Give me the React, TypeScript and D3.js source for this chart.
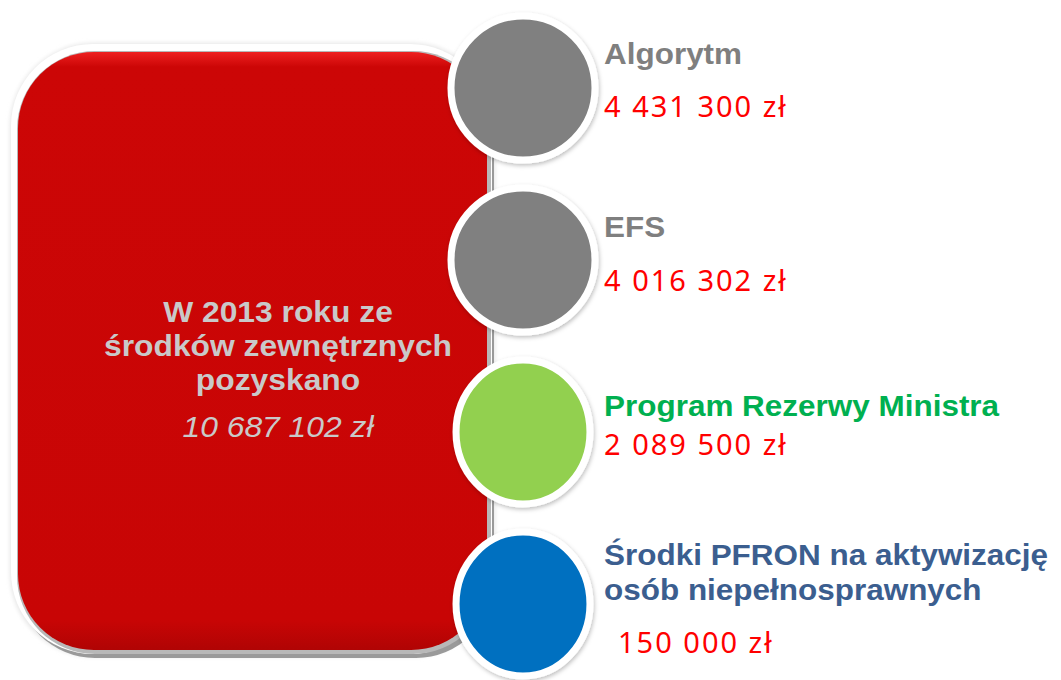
import React, { useRef, useEffect } from 'react';
import * as d3 from 'd3';

// Data
const categories = ['Algorytm', 'EFS', 'Program Rezerwy Ministra', 'Środki PFRON na aktywizację osób niepełnosprawnych'];
const labelLines = [['Algorytm'], ['EFS'], ['Program Rezerwy Ministra'], ['Środki PFRON na aktywizację', 'osób niepełnosprawnych']];
const values = [4431300, 4016302, 2089500, 150000];
const totalLines = ['W 2013 roku ze', 'środków zewnętrznych', 'pozyskano'];
const totalValue = 10687102;

const circleColors = ['#808080', '#808080', '#92D050', '#0070C0'];
const labelColors = ['#7F7F7F', '#7F7F7F', '#00B050', '#3B5E8F'];

// per-item text placement relative to the circle centre
const labelDy = [-24, -23, -16, -39];
const valueDy = [29, 31, 23, 49];
const valueDx = [0, 0, 0, 14];
const circleSqueeze = [1, 1, 0.93, 0.93];

const locale = d3.formatLocale({ decimal: ',', thousands: ' ', grouping: [3], currency: ['', ' zł'] });
const fmt = locale.format('$,');

const App = () => {
  const ref = useRef(null);

  useEffect(() => {
    const width = 1061;
    const height = 680;
    const svg = d3.select(ref.current);
    svg.selectAll('*').remove();
    svg.attr('width', width).attr('height', height);

    const defs = svg.append('defs');
    const grad = defs.append('linearGradient').attr('id', 'redGrad').attr('x1', 0).attr('y1', 0).attr('x2', 0).attr('y2', 1);
    grad.append('stop').attr('offset', '0%').attr('stop-color', '#EE2020');
    grad.append('stop').attr('offset', '2.5%').attr('stop-color', '#CC0606');
    grad.append('stop').attr('offset', '95%').attr('stop-color', '#C80505');
    grad.append('stop').attr('offset', '100%').attr('stop-color', '#B00404');

    const blur = defs.append('filter').attr('id', 'soft').attr('x', '-10%').attr('y', '-10%').attr('width', '120%').attr('height', '120%');
    blur.append('feGaussianBlur').attr('stdDeviation', 2);

    const circShadow = defs.append('filter').attr('id', 'cshadow').attr('x', '-20%').attr('y', '-20%').attr('width', '140%').attr('height', '140%');
    circShadow.append('feDropShadow').attr('dx', 1).attr('dy', 2).attr('stdDeviation', 2).attr('flood-color', '#000').attr('flood-opacity', 0.25);

    // Big red box
    const box = { x: 18, y: 52, w: 469, h: 598, r: 76 };
    svg.append('rect')
      .attr('x', box.x - 8).attr('y', box.y - 9)
      .attr('width', box.w + 16).attr('height', box.h + 16)
      .attr('rx', box.r + 8)
      .attr('fill', '#e6e6e6')
      .attr('filter', 'url(#soft)');
    svg.append('rect')
      .attr('x', box.x - 1).attr('y', box.y - 1)
      .attr('width', box.w + 8).attr('height', box.h + 9)
      .attr('rx', box.r + 2)
      .attr('fill', '#9a9a9a');
    svg.append('rect')
      .attr('x', box.x - 7).attr('y', box.y - 8)
      .attr('width', box.w + 12).attr('height', box.h + 12)
      .attr('rx', box.r + 6)
      .attr('fill', '#ffffff');
    svg.append('rect')
      .attr('x', box.x - 1).attr('y', box.y - 1)
      .attr('width', box.w + 5).attr('height', box.h + 5)
      .attr('rx', box.r + 2)
      .attr('fill', '#b8b8b8');
    svg.append('rect')
      .attr('x', box.x).attr('y', box.y)
      .attr('width', box.w).attr('height', box.h)
      .attr('rx', box.r)
      .attr('fill', 'url(#redGrad)');

    // Text in the box (slightly widened like the original slide)
    const tx = 278;
    const tg = svg.append('g').attr('transform', `translate(${tx},0) scale(1.06,1)`);
    const tText = tg.append('text')
      .attr('text-anchor', 'middle')
      .style('font-family', '"Liberation Sans", Arial, sans-serif')
      .style('font-weight', 'bold')
      .style('font-size', '30px')
      .attr('fill', '#C9C9C9');
    totalLines.forEach((line, i) => {
      tText.append('tspan').attr('x', 0).attr('y', 322 + i * 34).text(line);
    });
    tg.append('text')
      .attr('x', 0).attr('y', 437)
      .attr('text-anchor', 'middle')
      .style('font-family', '"Liberation Sans", Arial, sans-serif')
      .style('font-style', 'italic')
      .style('font-size', '30px')
      .attr('fill', '#C9C9C9')
      .text(fmt(totalValue));

    // Circles
    const y = d3.scalePoint().domain(categories).range([88, 604]);
    const cx = 523;
    const r = 72;

    const items = svg.append('g').selectAll('g')
      .data(categories)
      .join('g')
      .attr('transform', d => `translate(${cx},${y(d)})`);

    items.append('ellipse')
      .attr('rx', (d, i) => r * circleSqueeze[i])
      .attr('ry', r)
      .attr('fill', (d, i) => circleColors[i])
      .attr('stroke', '#ffffff')
      .attr('stroke-width', 7)
      .attr('filter', 'url(#cshadow)');

    // Labels
    items.each(function (d, i) {
      const g = d3.select(this);
      const lt = g.append('text')
        .attr('transform', `translate(${604 - cx},0) scale(1.085,1)`)
        .style('font-family', '"Liberation Sans", Arial, sans-serif')
        .style('font-weight', 'bold')
        .style('font-size', '29px')
        .attr('fill', labelColors[i]);
      labelLines[i].forEach((line, j) => {
        lt.append('tspan').attr('x', 0).attr('y', labelDy[i] + j * 35).text(line);
      });
      g.append('text')
        .attr('x', 604 - cx + valueDx[i])
        .attr('y', valueDy[i])
        .style('font-family', '"Noto Sans", sans-serif')
        .style('font-size', '29px')
        .style('letter-spacing', '2px')
        .attr('fill', '#FF0000')
        .text(fmt(values[i]));
    });
  }, []);

  return <svg ref={ref} style={{ position: 'absolute', left: 0, top: 0, background: '#fff' }}></svg>;
};

export default App;
